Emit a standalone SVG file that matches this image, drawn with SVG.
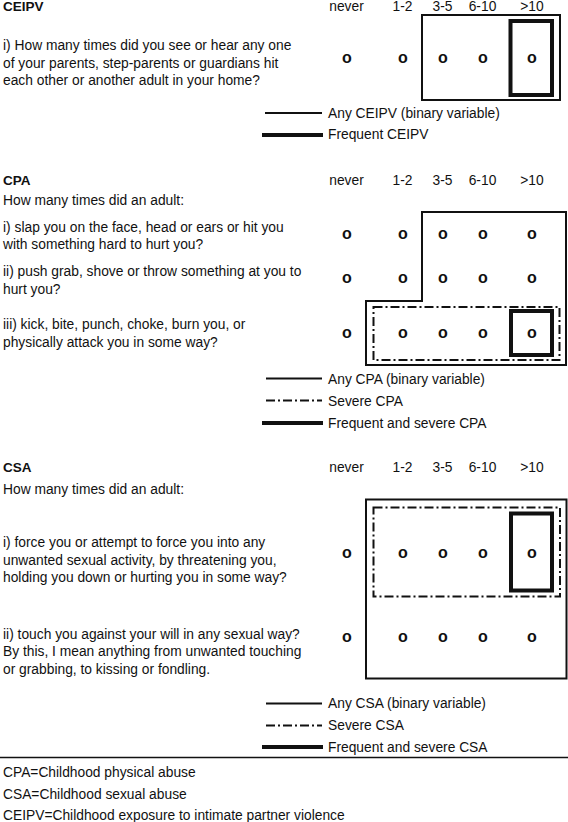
<svg xmlns="http://www.w3.org/2000/svg" width="568" height="822" viewBox="0 0 568 822">
<style>
text{font-family:"Liberation Sans",Arial,sans-serif;font-size:13.8px;fill:#111}
.h{font-weight:bold;font-size:13.5px}
.c{text-anchor:middle}
.o{font-weight:bold;text-anchor:middle;font-size:16px}
.thin{fill:none;stroke:#111;stroke-width:2}
.dd{fill:none;stroke:#111;stroke-width:2;stroke-dasharray:9 3 2 3}
.thick{fill:none;stroke:#111;stroke-width:4}
</style>
<rect width="568" height="822" fill="#fff"/>

<g id="ceipv">
<text class="h" x="3" y="11">CEIPV</text>
<g id="ceipv-head">
<text class="c" x="346.5" y="10.5">never</text>
<text class="c" x="402.5" y="10.5">1-2</text>
<text class="c" x="442.5" y="10.5">3-5</text>
<text class="c" x="482.5" y="10.5">6-10</text>
<text class="c" x="532" y="10.5">&gt;10</text>
</g>
<g id="ceipv-q1">
<text x="3" y="50">i) How many times did you see or hear any one</text>
<text x="3" y="67.5">of your parents, step-parents or guardians hit</text>
<text x="3" y="85">each other or another adult in your home?</text>
<text class="o" x="347" y="62.5">o</text>
<text class="o" x="403" y="62.5">o</text>
<text class="o" x="443" y="62.5">o</text>
<text class="o" x="483" y="62.5">o</text>
<text class="o" x="532" y="62.5">o</text>
</g>
<g id="ceipv-legend">
<line class="thin" x1="265" y1="113" x2="322" y2="113"/>
<text x="328" y="117.5">Any CEIPV (binary variable)</text>
<line class="thick" x1="262" y1="135" x2="323" y2="135"/>
<text x="328" y="139">Frequent CEIPV</text>
</g>
</g>

<g id="cpa">
<text class="h" x="3" y="185">CPA</text>
<g id="cpa-head">
<text class="c" x="346.5" y="185">never</text>
<text class="c" x="402.5" y="185">1-2</text>
<text class="c" x="442.5" y="185">3-5</text>
<text class="c" x="482.5" y="185">6-10</text>
<text class="c" x="532" y="185">&gt;10</text>
</g>
<text x="3" y="205">How many times did an adult:</text>
<g id="cpa-q1">
<text x="3" y="231.5">i) slap you on the face, head or ears or hit you</text>
<text x="3" y="249">with something hard to hurt you?</text>
<text class="o" x="347" y="238.5">o</text>
<text class="o" x="403" y="238.5">o</text>
<text class="o" x="443" y="238.5">o</text>
<text class="o" x="483" y="238.5">o</text>
<text class="o" x="532" y="238.5">o</text>
</g>
<g id="cpa-q2">
<text x="3" y="276">ii) push grab, shove or throw something at you to</text>
<text x="3" y="293.5">hurt you?</text>
<text class="o" x="347" y="283">o</text>
<text class="o" x="403" y="283">o</text>
<text class="o" x="443" y="283">o</text>
<text class="o" x="483" y="283">o</text>
<text class="o" x="532" y="283">o</text>
</g>
<g id="cpa-q3">
<text x="3" y="329">iii) kick, bite, punch, choke, burn you, or</text>
<text x="3" y="346.5">physically attack you in some way?</text>
<text class="o" x="347" y="337.5">o</text>
<text class="o" x="403" y="337.5">o</text>
<text class="o" x="443" y="337.5">o</text>
<text class="o" x="483" y="337.5">o</text>
<text class="o" x="532" y="337.5">o</text>
</g>
<g id="cpa-legend">
<line class="thin" x1="266" y1="378.5" x2="322" y2="378.5"/>
<text x="328" y="383.5">Any CPA (binary variable)</text>
<line class="dd" x1="266" y1="400.5" x2="322" y2="400.5"/>
<text x="328" y="405.5">Severe CPA</text>
<line class="thick" x1="262" y1="423" x2="323" y2="423"/>
<text x="328" y="428">Frequent and severe CPA</text>
</g>
</g>

<g id="csa">
<text class="h" x="3" y="472">CSA</text>
<g id="csa-head">
<text class="c" x="346.5" y="472">never</text>
<text class="c" x="402.5" y="472">1-2</text>
<text class="c" x="442.5" y="472">3-5</text>
<text class="c" x="482.5" y="472">6-10</text>
<text class="c" x="532" y="472">&gt;10</text>
</g>
<text x="3" y="494">How many times did an adult:</text>
<g id="csa-q1">
<text x="3" y="547">i) force you or attempt to force you into any</text>
<text x="3" y="564.5">unwanted sexual activity, by threatening you,</text>
<text x="3" y="582">holding you down or hurting you in some way?</text>
<text class="o" x="347" y="557.5">o</text>
<text class="o" x="403" y="557.5">o</text>
<text class="o" x="443" y="557.5">o</text>
<text class="o" x="483" y="557.5">o</text>
<text class="o" x="532" y="557.5">o</text>
</g>
<g id="csa-q2">
<text x="3" y="638.5">ii) touch you against your will in any sexual way?</text>
<text x="3" y="656">By this, I mean anything from unwanted touching</text>
<text x="3" y="673.5">or grabbing, to kissing or fondling.</text>
<text class="o" x="347" y="641.5">o</text>
<text class="o" x="403" y="641.5">o</text>
<text class="o" x="443" y="641.5">o</text>
<text class="o" x="483" y="641.5">o</text>
<text class="o" x="532" y="641.5">o</text>
</g>
<g id="csa-legend">
<line class="thin" x1="266" y1="703.5" x2="322" y2="703.5"/>
<text x="328" y="708">Any CSA (binary variable)</text>
<line class="dd" x1="266" y1="725.5" x2="322" y2="725.5"/>
<text x="328" y="730">Severe CSA</text>
<line class="thick" x1="262" y1="747" x2="323" y2="747"/>
<text x="328" y="751.5">Frequent and severe CSA</text>
</g>
</g>

<g id="connectors">
<rect class="thin" x="422" y="15" width="138" height="85"/>
<rect class="thick" x="510.5" y="21" width="41.5" height="74"/>
<path class="thin" d="M422 212 H566 V365 H366 V301 H422 Z"/>
<rect class="dd" x="373.5" y="307" width="186" height="53"/>
<rect class="thick" x="511" y="311" width="41" height="44"/>
<rect class="thin" x="366" y="499.5" width="200.5" height="179"/>
<rect class="dd" x="373.5" y="507.5" width="186.5" height="89"/>
<rect class="thick" x="511" y="513.5" width="41" height="77"/>
</g>

<line x1="0" y1="757.5" x2="568" y2="757.5" stroke="#111" stroke-width="1.5"/>
<g id="footer">
<text x="3" y="776.5">CPA=Childhood physical abuse</text>
<text x="3" y="798.5">CSA=Childhood sexual abuse</text>
<text x="3" y="820">CEIPV=Childhood exposure to intimate partner violence</text>
</g>
</svg>
